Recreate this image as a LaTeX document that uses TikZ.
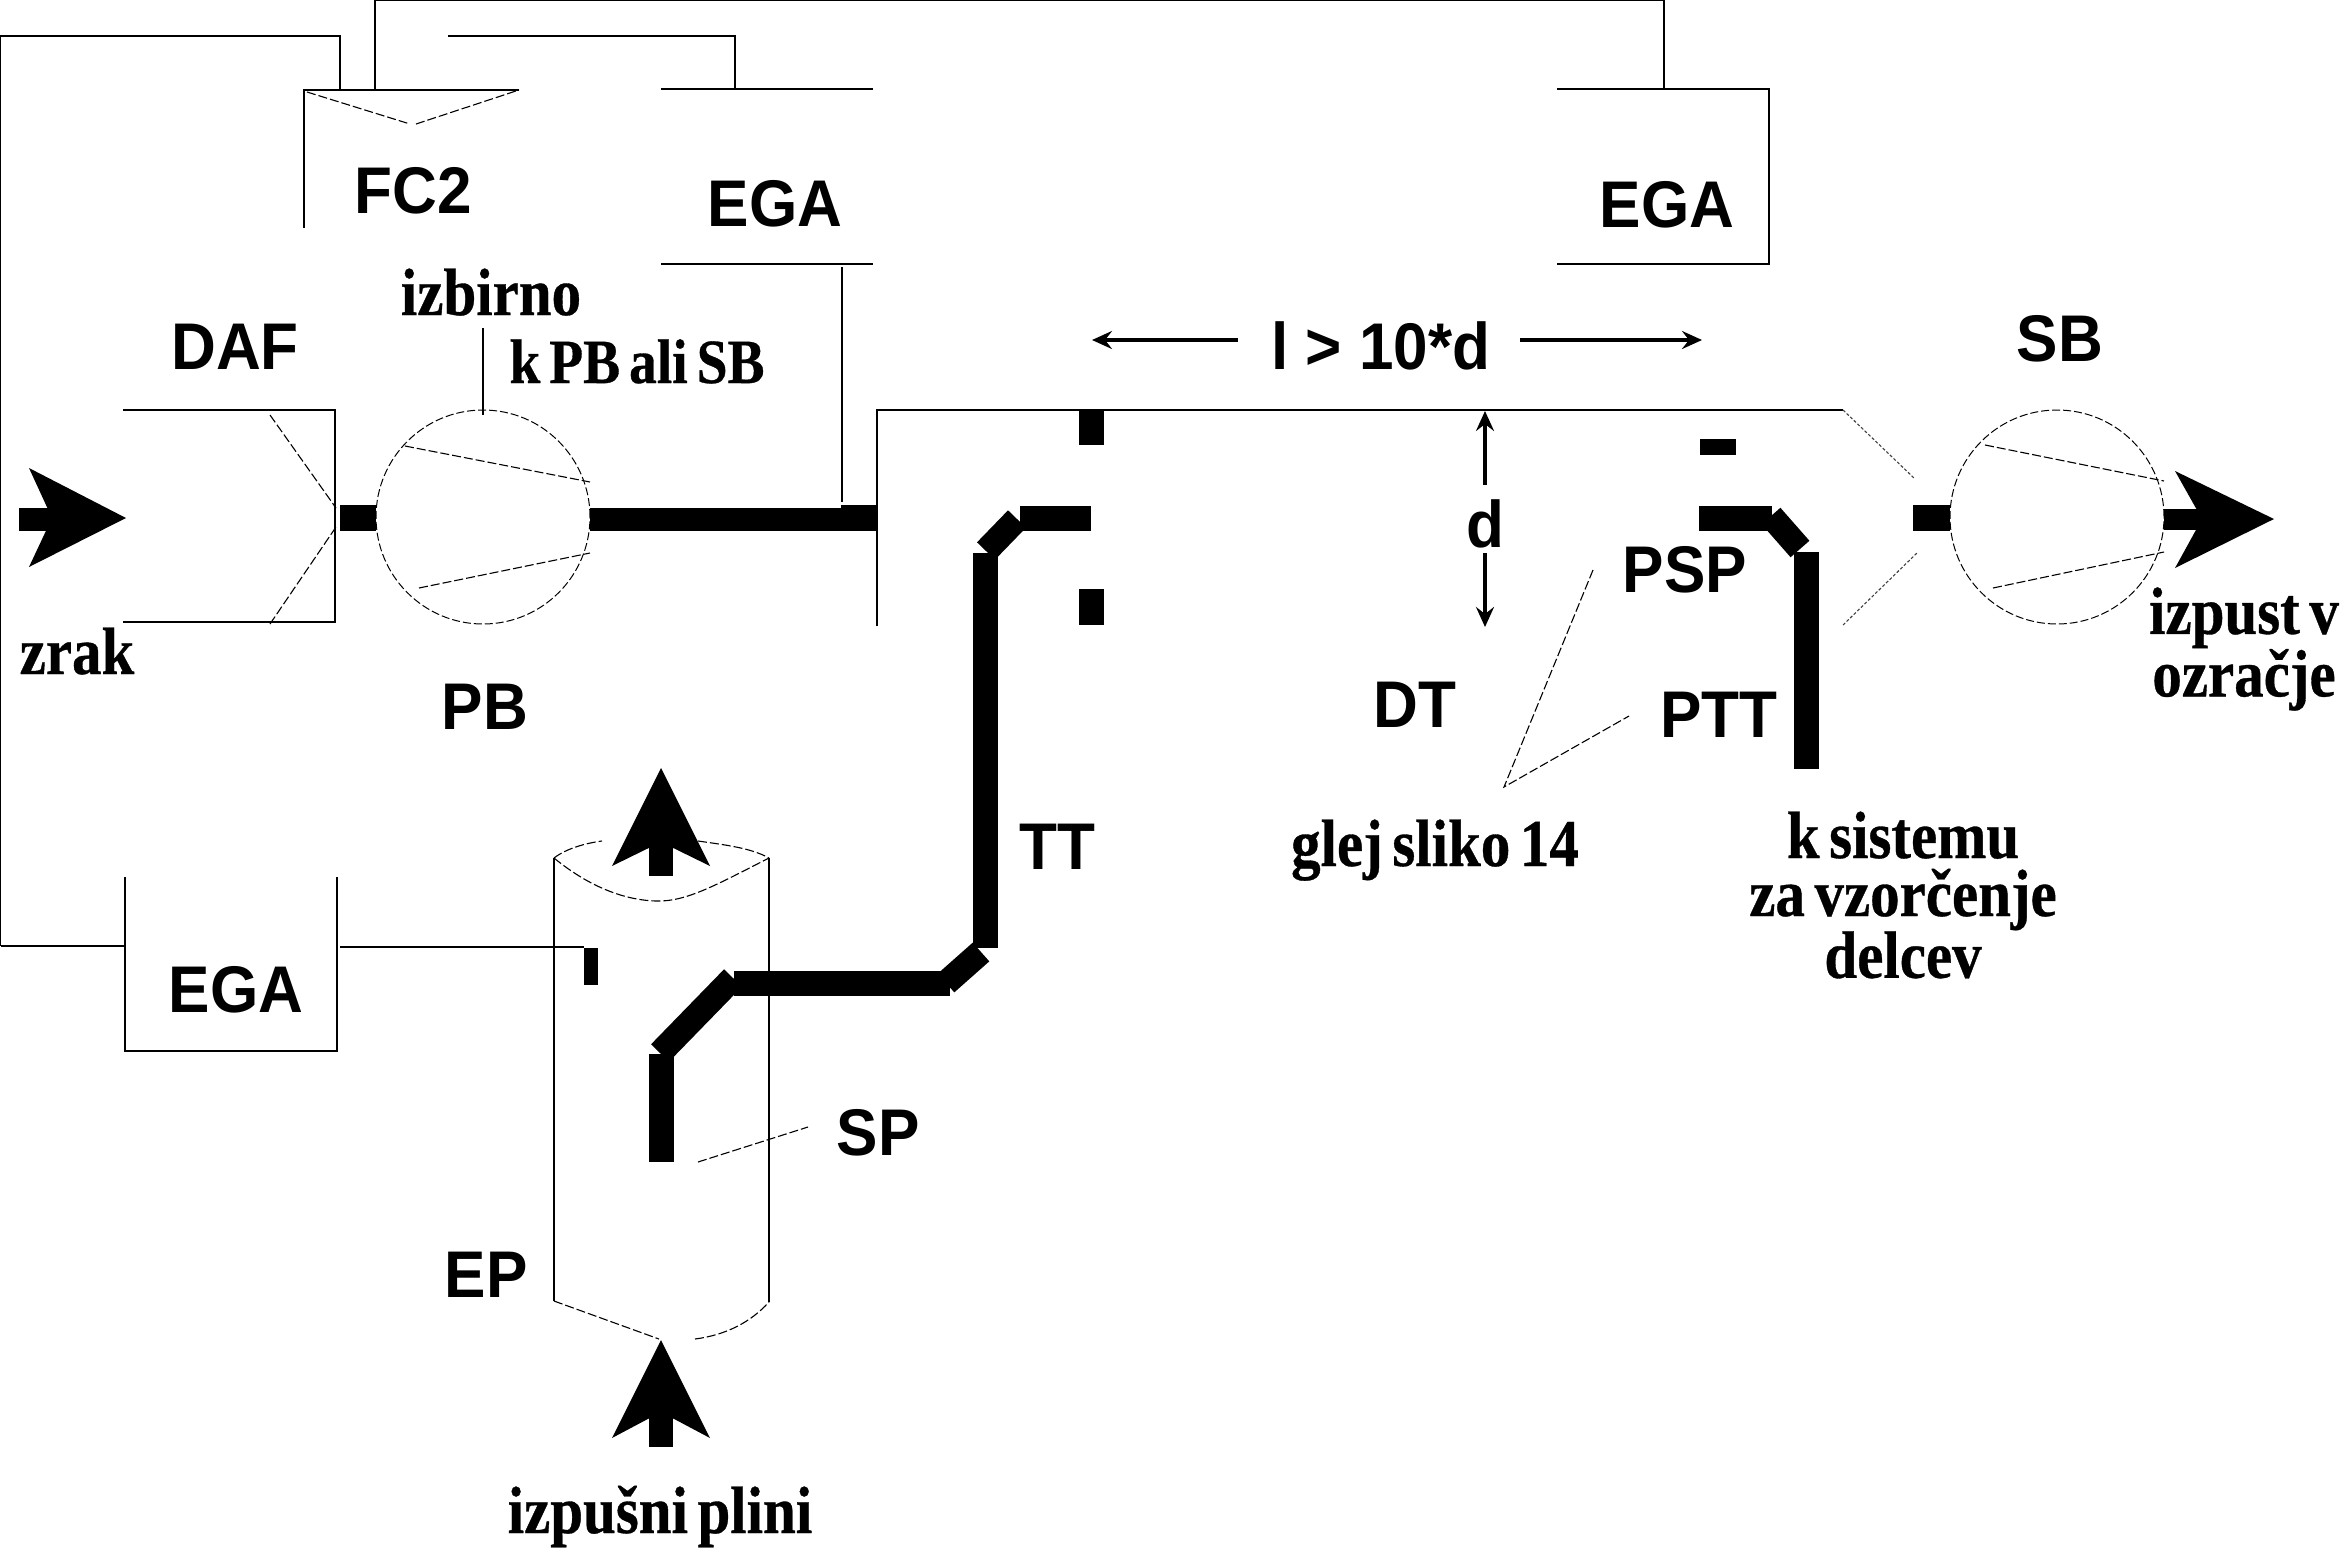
\documentclass[tikz,border=0pt]{standalone}
\usepackage{fontspec}
\usetikzlibrary{arrows.meta}
\newfontfamily\sanslabel[FakeStretch=0.94]{Liberation Sans}
\newfontfamily\seriflabel[FakeStretch=0.88,WordSpace=0.65,BoldFeatures={FakeBold=0.5}]{Liberation Serif}
\tikzset{
  wire/.style={line width=1.5pt,draw=black},
  dashwire/.style={line width=1.1pt,draw=black,dash pattern=on 9pt off 3pt},
  dotwire/.style={line width=1.1pt,draw=black!75,dash pattern=on 3pt off 2pt},
  tube/.style={line width=25pt,draw=black},
  block/.style={fill=black,draw=none},
  gasarrow/.style={fill=black,draw=none},
  dimarrow/.style={line width=3.5pt,draw=black,-{Stealth[length=20pt,width=18pt,inset=7pt]}},
  sanstext/.style={inner sep=0pt,anchor=base,font=\sanslabel\bfseries\fontsize{66}{72}\selectfont},
  seriftext/.style={inner sep=0pt,anchor=base,align=center,font=\seriflabel\bfseries\fontsize{67}{58}\selectfont},
  fan/.style={circle,draw=black,line width=1pt,dash pattern=on 8pt off 3pt,minimum size=214pt,inner sep=0pt}
}
\begin{document}
\begin{tikzpicture}[x=1pt,y=-1pt]
\useasboundingbox (0,0) rectangle (2340,1548);
\fill[white] (0,0) rectangle (2340,1548);

% Fans
\node[fan] (pb) at (483,517) {};
\node[fan] (sb) at (2057,517) {};

% Reference points of the pipework
\coordinate (dafTL) at (123,410);
\coordinate (dafTR) at (335,410);
\coordinate (dafBR) at (335,622);
\coordinate (dafBL) at (123,622);
\coordinate (dtTop) at (877,410);
\coordinate (dtBot) at (877,626);
\coordinate (dtEnd) at (1843,410);
\coordinate (dtEndLow) at (1843,625);
\coordinate (sbThroatTop) at (1915,479);
\coordinate (sbThroatLow) at (1918,552);

% Dilution air filter housing
\draw[wire] (dafTL) -- (dafTR) -- (dafBR) -- (dafBL);
\draw[dashwire] (270,415) -- (336,508);
\draw[dashwire] (270,624) -- (336,527);

% Dilution tunnel
\draw[wire] (dtBot) -- (dtTop) -- (dtEnd);
\draw[dotwire] (dtEnd) -- (sbThroatTop);
\draw[dotwire] (dtEndLow) -- (sbThroatLow);

% Fan blades
\draw[dashwire] (405,446) -- (590,482);
\draw[dashwire] (419,588) -- (590,553);
\draw[dashwire] (1985,445) -- (2164,481);
\draw[dashwire] (1993,588) -- (2164,552);

% Flow computer and analyser lines along the top
\draw[wire] (0.7,946) -- (0.7,36) -- (340,36) -- (340,90);
\draw[wire] (375,90) -- (375,0.7) -- (1664,0.7) -- (1664,89);
\draw[wire] (448,36) -- (735,36) -- (735,89);
\draw[wire] (304,228) -- (304,90) -- (519,90);
\draw[dashwire] (307,92) -- (410,124);
\draw[dashwire] (416,124) -- (519,90);

% Gas analyser housings
\draw[wire] (661,89) -- (873,89);
\draw[wire] (661,264) -- (873,264);
\draw[wire] (842,267) -- (842,502);
\draw[wire] (1557,89) -- (1769,89) -- (1769,264) -- (1557,264);
\draw[wire] (125,877) -- (125,1051) -- (337,1051) -- (337,877);
\draw[wire] (0.7,946) -- (125,946);
\draw[wire] (340,947) -- (584,947);
\draw[wire] (483,328) -- (483,415);

% Exhaust pipe
\draw[wire] (554,858) -- (554,1301);
\draw[wire] (769,858) -- (769,1302);
\draw[dashwire] (554,858) .. controls (567,848) and (587,843) .. (602,841);
\draw[dashwire] (698,841) .. controls (726,845) and (751,848) .. (769,858);
\draw[dashwire] (554,858) .. controls (587,885) and (622,900) .. (656,901) .. controls (686,902) and (716,885) .. (769,858);
\draw[dashwire] (554,1301) -- (659,1339);
\draw[dashwire] (695,1339) .. controls (726,1335) and (751,1322) .. (769,1302);

% Sample pipe and transfer tube
\draw[tube] (661,1162) -- (661,1054);
\draw[tube] (660,1053) -- (733,978);
\draw[tube] (734,983) -- (950,983);
\draw[tube] (946,983) -- (981,952);
\draw[tube] (985,948) -- (985,553);
\draw[tube] (986,551) -- (1017,519);
\draw[tube] (1020,518) -- (1091,518);

% Particle sampling probe and transfer tube
\draw[tube] (1699,518) -- (1772,518);
\draw[tube] (1771,516) -- (1800,549);
\draw[tube] (1806,552) -- (1806,769);

% Dilution air line
\draw[line width=23pt] (590,519.5) -- (841,519.5);

% Short pipe sections
\fill[block] (340,505) rectangle (376,531);
\fill[block] (841,505) rectangle (877,531);
\fill[block] (1913,505) rectangle (1950,531);
\fill[block] (1079,411) rectangle (1104,445);
\fill[block] (1079,589) rectangle (1104,625);
\fill[block] (1700,439) rectangle (1736,455);
\fill[block] (584,948) rectangle (598,985);

% Flow arrows
\fill[gasarrow] (19,508) rectangle (55,531);
\fill[gasarrow] (126,518) -- (29,468) -- (52,518) -- (29,567) -- cycle;
\fill[gasarrow] (2164,509) rectangle (2205,530);
\fill[gasarrow] (2274,519) -- (2175,471) -- (2202,519) -- (2175,568) -- cycle;
\fill[gasarrow] (649,840) rectangle (673,876);
\fill[gasarrow] (661,768) -- (612,866) -- (661,842) -- (710,866) -- cycle;
\fill[gasarrow] (649,1410) rectangle (673,1447);
\fill[gasarrow] (661,1340) -- (612,1438) -- (661,1412) -- (710,1438) -- cycle;

% Dimension arrows
\coordinate (lLeft) at (1092,340);
\coordinate (lRight) at (1702,340);
\coordinate (dTop) at (1485,411);
\coordinate (dBot) at (1485,627);
\draw[dimarrow] (1238,340) -- (lLeft);
\draw[dimarrow] (1520,340) -- (lRight);
\draw[dimarrow] (1485,485) -- (dTop);
\draw[dimarrow] (1485,553) -- (dBot);

% Leader lines
\coordinate (see) at (1504,787);
\draw[dashwire] (1593,570) -- (see) -- (1629,716);
\draw[dashwire] (698,1162) -- (808,1127);

% Component labels
\node[sanstext] (lfc) at (413,213.5) {FC2};
\node[sanstext] (lega1) at (775,226) {EGA};
\node[sanstext] (lega2) at (1667,227) {EGA};
\node[sanstext] (ldaf) at (235,369) {DAF};
\node[sanstext] (lsb) at (2060,361) {SB};
\node[sanstext] (lpb) at (485,729) {PB};
\node[sanstext] (lratio) at (1381,369) {l > 10*d};
\node[sanstext] (ld) at (1485,547) {d};
\node[sanstext] (lpsp) at (1685,592) {PSP};
\node[sanstext] (lptt) at (1719,737.5) {PTT};
\node[sanstext] (ldt) at (1415,727) {DT};
\node[sanstext] (ltt) at (1057,869) {TT};
\node[sanstext] (lega3) at (236,1012) {EGA};
\node[sanstext] (lsp) at (878,1155.6) {SP};
\node[sanstext] (lep) at (486,1297) {EP};

% Explanatory labels
\node[seriftext] (tizb) at (491,315) {izbirno};
\node[seriftext,font=\seriflabel\bfseries\fontsize{63}{58}\selectfont] (tk) at (637,383) {k PB ali SB};
\node[seriftext] (tzrak) at (77,674) {zrak};
\node[seriftext] (tglej) at (1435,866) {glej sliko 14};
\node[seriftext] (tplin) at (660,1533) {izpušni plini};
\node[seriftext,anchor=center] (tsis) at (1903,895) {k sistemu\\za vzorčenje\\delcev};
\node[seriftext,anchor=center] (tizp) at (2244,649) {izpust v\\ozračje};
\end{tikzpicture}
\end{document}
